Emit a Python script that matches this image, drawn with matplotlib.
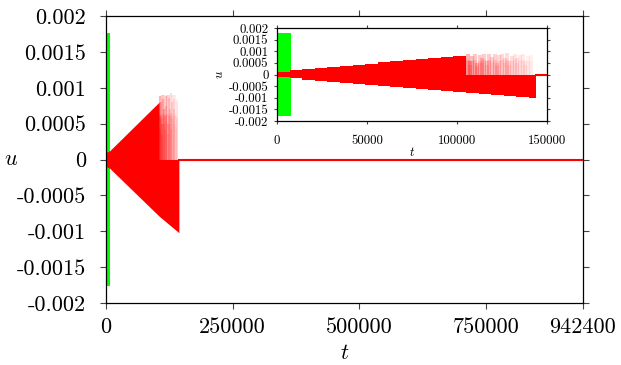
import matplotlib
matplotlib.use("Agg")
import matplotlib.pyplot as plt

plt.rcParams['font.family'] = 'cmr10'
plt.rcParams['mathtext.fontset'] = 'cm'
plt.rcParams['axes.unicode_minus'] = False
plt.rcParams['axes.formatter.use_mathtext'] = True

# green burst at the start
green_t = [0, 7500]
green_amp = 0.00177

# red envelope (step values)
env_t = [0, 7000, 14000, 21000, 28000, 35000, 42000, 49000, 56000, 63000, 70000,
         77000, 84000, 91000, 98000, 105000, 112000, 119000, 126000, 133000, 140000, 144000]
env_hi = [0.0001, 0.00019, 0.00024, 0.00029, 0.00033, 0.00038, 0.00043, 0.00047, 0.00052,
          0.00057, 0.00061, 0.00066, 0.00071, 0.00075, 0.0008, 0, 0, 0, 0, 0, 0, 0]
env_lo = [-0.0001, -0.00017, -0.00022, -0.00027, -0.00031, -0.00036, -0.0004, -0.00045,
          -0.0005, -0.00054, -0.00059, -0.00063, -0.00068, -0.00072, -0.00077, -0.00081,
          -0.00085, -0.00089, -0.00093, -0.00097, -0.00101, -0.00102]

# envelope outline as seen in the full view
full_t = [0, 7000, 105000, 105001, 144000]
full_hi = [0.0001, 0.00012, 0.0008, 0, 0]
full_lo = [-0.0001, -0.00012, -0.00079, -0.00079, -0.00102]

# faded upper spikes after the envelope drops
fade_t = [106000, 107000, 108500, 110000, 111000, 112500, 114000, 115000, 116500, 118000, 119500,
          121000, 122000, 123500, 125000, 126500, 128000, 129000, 130500, 132000, 133500,
          135000, 136500, 138000, 139500, 141000]
fade_h = [0.00088, 0.0006, 0.0008, 0.0009, 0.0005, 0.00085, 0.0007, 0.0009, 0.0006, 0.00088, 0.00075,
          0.0009, 0.0005, 0.00086, 0.0009, 0.0007, 0.00092, 0.0006, 0.0008, 0.0009, 0.0007,
          0.00085, 0.0009, 0.0006, 0.0008, 0.00085]
fade_a = [0.3, 0.25, 0.25, 0.22, 0.25, 0.2, 0.22, 0.2, 0.18, 0.2, 0.16,
          0.18, 0.16, 0.15, 0.15, 0.13, 0.14, 0.12, 0.12, 0.1, 0.1,
          0.09, 0.08, 0.07, 0.06, 0.05]

zero_t = [144000, 942400]

y_ticks = [-0.002, -0.0015, -0.001, -0.0005, 0, 0.0005, 0.001, 0.0015, 0.002]
y_labels = ['-0.002', '-0.0015', '-0.001', '-0.0005', '0', '0.0005', '0.001', '0.0015', '0.002']
x_ticks = [0, 250000, 500000, 750000, 942400]
x_labels = ['0', '250000', '500000', '750000', '942400']
xi_ticks = [0, 50000, 100000, 150000]
xi_labels = ['0', '50000', '100000', '150000']


def draw(ax, fade_lw, stepped):
    ax.fill_between(green_t, -green_amp, green_amp, color='#00ff00', lw=0, zorder=1)
    if stepped:
        ax.fill_between(env_t, env_lo, env_hi, step='post', color='#ff0000', lw=0, zorder=2)
    else:
        ax.fill_between(full_t, full_lo, full_hi, color='#ff0000', lw=0, zorder=2)
    for t, h, a in zip(fade_t, fade_h, fade_a):
        ax.vlines(t, 0, h, color='#ff0000', alpha=a, lw=fade_lw, zorder=2)
        ax.vlines(t, 0, h * 0.7, color='#ff0000', alpha=a * 0.6, lw=fade_lw, zorder=2)
    ax.plot(zero_t, [0, 0], color='#ff0000', lw=1.5, zorder=3)


def style(ax, size, ticklen, padx, pady):
    for s in ax.spines.values():
        s.set_linewidth(0.9)
    ax.tick_params(direction='out', length=ticklen, width=0.8, color='#444444',
                   top=True, right=True, labelsize=size)
    ax.tick_params(axis='x', pad=padx)
    ax.tick_params(axis='y', pad=pady)


fig = plt.figure(figsize=(6.21, 3.65), dpi=100)

ax = fig.add_axes([106 / 621, 62 / 365, 477 / 621, 287 / 365])
draw(ax, 1.5, False)
ax.set_xlim(0, 942400)
ax.set_ylim(-0.002, 0.002)
ax.set_xticks(x_ticks)
ax.set_xticklabels(x_labels)
ax.set_yticks(y_ticks)
ax.set_yticklabels(y_labels)
style(ax, 16, 4.3, 6, 10)
ax.set_xlabel('$t$', fontsize=16, labelpad=5)
ax.set_ylabel('$u$', fontsize=16, rotation=0, labelpad=4, va='center')

axi = fig.add_axes([277 / 621, 244 / 365, 270 / 621, 93 / 365])
draw(axi, 3.0, True)
axi.set_xlim(0, 150000)
axi.set_ylim(-0.002, 0.002)
axi.set_xticks(xi_ticks)
axi.set_xticklabels(xi_labels)
axi.set_yticks(y_ticks)
axi.set_yticklabels(y_labels)
style(axi, 9.3, 2.2, 8, 4)
axi.set_xlabel('$t$', fontsize=9.3, labelpad=-1)
axi.set_ylabel('$u$', fontsize=9.3, labelpad=2)

fig.savefig('out.png', dpi=100)
